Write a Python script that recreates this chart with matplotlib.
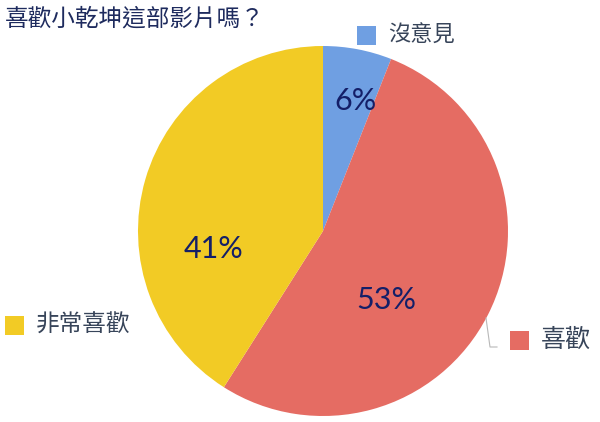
"""Recreate pie chart: 喜歡小乾坤這部影片嗎？"""

import matplotlib
matplotlib.use("Agg")
import matplotlib.pyplot as plt

plt.rcParams["font.family"] = ["Noto Sans CJK TC", "DejaVu Sans"]

# data
labels = ["沒意見", "喜歡", "非常喜歡"]
values = [6, 53, 41]
pct_text = ["6%", "53%", "41%"]
colors = ["#6f9fe2", "#e56c63", "#f2cb25"]
title = "喜歡小乾坤這部影片嗎？"

W, H = 600, 422
fig = plt.figure(figsize=(W / 100, H / 100), dpi=100)
ax = fig.add_axes([0, 0, 1, 1])

# pie drawn in pixel coords; y axis inverted, so angles go clockwise visually
cx, cy, r = 323, 231, 185
wedges, _ = ax.pie(values, colors=colors, startangle=-90, counterclock=True,
                   center=(cx, cy), radius=r, frame=True,
                   wedgeprops=dict(linewidth=0))
ax.set_xlim(0, W)
ax.set_ylim(H, 0)
ax.set_aspect("equal")
ax.axis("off")

# percentage labels inside slices
pct_pos = [(356, 101), (386, 300), (214, 249)]
for (x, y), t in zip(pct_pos, pct_text):
    ax.text(x, y, t, ha="center", va="center", fontsize=22,
            color="#141f68", family=["Lato", "DejaVu Sans"])

# category labels with square markers
label_pos = [(357, 35), (510, 340), (5, 325)]
label_sizes = [16, 18, 17]
for (x, y), lab, c, fs in zip(label_pos, labels, colors, label_sizes):
    ax.add_patch(plt.Rectangle((x, y - 9.5), 19, 19, color=c, lw=0))
    ax.text(x + 31, y, lab, ha="left", va="center", fontsize=fs,
            color="#38455a")

# leader line for 喜歡
ax.plot([486, 490, 497], [318, 347, 347], color="#b8b8b8", lw=0.8)

ax.text(5, 19, title, ha="left", va="center", fontsize=17, color="#1e2b5e")

fig.savefig("out.png", dpi=100)
